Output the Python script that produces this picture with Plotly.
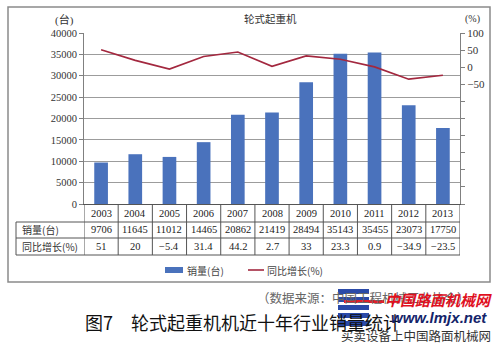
import plotly.graph_objects as go

# Wheeled crane sales, 2003-2013
years = ["2003", "2004", "2005", "2006", "2007", "2008", "2009", "2010", "2011", "2012", "2013"]
sales = [9706, 11645, 11012, 14465, 20862, 21419, 28494, 35143, 35455, 23073, 17750]
growth = [51, 20, -5.4, 31.4, 44.2, 2.7, 33, 23.3, 0.9, -34.9, -23.5]

left_ticks = list(range(0, 40001, 5000))
left_labels = [str(v) for v in left_ticks]
right_ticks = list(range(-400, 101, 50))
right_labels = [("\u2212" + str(-v)) if v < 0 else str(v) for v in right_ticks]
right_labels = [t if v >= -50 else "" for v, t in zip(right_ticks, right_labels)]

W, H = 500, 344
L, R, T, B = 84, 40, 33, 140
PW, PH = W - L - R, H - T - B

SERIF = "Liberation Serif, Noto Sans CJK SC"
CJK = "Noto Sans CJK SC"
BAR_C = "#4a72bc"
LINE_C = "#a3283f"
GRID_C = "#9c9c9c"
TBL_C = "#555555"


def px(x):
    return (x - L) / PW


def py(y):
    return (H - B - y) / PH


def fmt(v):
    s = f"{v:g}"
    return s.replace("-", "\u2212")


def label(x, y, text, family=CJK, size=10.5, color="#333", xanchor="center",
          xref="paper", **kw):
    return dict(x=x, xref=xref, y=y, yref="paper", text=text, xanchor=xanchor,
                yanchor="middle", showarrow=False,
                font=dict(family=family, size=size, color=color), **kw)


idx = list(range(len(years)))

fig = go.Figure()
fig.add_trace(go.Bar(x=idx, y=sales, marker=dict(color=BAR_C, line=dict(width=0)),
                     width=0.4, name="销量(台)", showlegend=False))
fig.add_trace(go.Scatter(x=idx, y=growth, yaxis="y2", mode="lines",
                         line=dict(color=LINE_C, width=1.6), name="同比增长(%)",
                         showlegend=False))

shapes = []
ann = []

# outer frame
shapes.append(dict(type="rect", xref="paper", yref="paper", x0=px(8), x1=px(490),
                   y0=py(282), y1=py(7), line=dict(color="#8a8a8a", width=1.5)))

# data table grid
row_y = [204, 222, 238, 255]
for k in range(len(years) + 1):
    shapes.append(dict(type="line", xref="x", yref="paper", x0=k - 0.5, x1=k - 0.5,
                       y0=py(row_y[0]), y1=py(row_y[-1]), line=dict(color=TBL_C, width=1)))
shapes.append(dict(type="line", xref="paper", yref="paper", x0=px(16), x1=px(16),
                   y0=py(row_y[1]), y1=py(row_y[-1]), line=dict(color=TBL_C, width=1)))
for yy in row_y[1:]:
    shapes.append(dict(type="line", xref="paper", yref="paper", x0=px(16), x1=1,
                       y0=py(yy), y1=py(yy), line=dict(color=TBL_C, width=1)))

row_mid = [(row_y[i] + row_y[i + 1]) / 2 for i in range(3)]
for i, yr in enumerate(years):
    ann.append(label(i, py(row_mid[0]), yr, family=SERIF, color="#222", xref="x"))
    ann.append(label(i, py(row_mid[1]), str(sales[i]), family=SERIF, color="#222", xref="x"))
    ann.append(label(i, py(row_mid[2]), fmt(growth[i]), family=SERIF, color="#222", xref="x"))
ann.append(label(px(20), py(row_mid[1]), "销量(台)", size=10, xanchor="left"))
ann.append(label(px(20), py(row_mid[2]), "同比增长(%)", size=10, xanchor="left"))

# legend
shapes.append(dict(type="rect", xref="paper", yref="paper", x0=px(165), x1=px(183),
                   y0=py(273), y1=py(267), fillcolor=BAR_C, line=dict(width=0)))
ann.append(label(px(185), py(270), "销量(台)", size=10, color="#444", xanchor="left"))
shapes.append(dict(type="line", xref="paper", yref="paper", x0=px(248), x1=px(264),
                   y0=py(270), y1=py(270), line=dict(color=LINE_C, width=1.6)))
ann.append(label(px(265), py(270), "同比增长(%)", size=10, color="#444", xanchor="left"))

# titles and units
ann.append(label(px(270), py(19), "轮式起重机", size=10.5))
ann.append(label(px(64), py(20), "(台)", family=SERIF, size=11))
ann.append(label(px(472), py(19), "(%)", family=SERIF, size=10))

# source note and figure caption
ann.append(label(px(255), py(297), "（数据来源：中国工程机械工业协会）", size=12.5,
                 color="#666", xanchor="left"))
ann.append(label(px(83), py(322), "图7", size=18, color="#111", xanchor="left"))
ann.append(label(px(129), py(322), "轮式起重机机近十年行业销量统计", size=18,
                 color="#111", xanchor="left"))

# site logo mark
for y0 in [289, 297, 305, 313, 321]:
    shapes.append(dict(type="rect", xref="paper", yref="paper", x0=px(338), x1=px(369),
                       y0=py(y0 + 5), y1=py(y0), fillcolor="#2a4aa8", line=dict(width=0)))
shapes.append(dict(type="rect", xref="paper", yref="paper", x0=px(344), x1=px(384),
                   y0=py(303), y1=py(300), fillcolor="#e0202a", line=dict(width=0)))
ann.append(label(px(383), py(299), "<b><i>中国路面机械网</i></b>", size=15,
                 color="#e0101e", xanchor="left"))
ann.append(label(px(389), py(317), "<b><i>www.lmjx.net</i></b>", family="Liberation Sans",
                 size=15, color="#14246a", xanchor="left"))
ann.append(label(px(339), py(335), "买卖设备上中国路面机械网", size=12.5, color="#333",
                 xanchor="left"))

fig.update_layout(
    width=W, height=H, autosize=False,
    margin=dict(l=L, r=R, t=T, b=B, pad=0),
    paper_bgcolor="white", plot_bgcolor="white",
    showlegend=False,
    xaxis=dict(range=[-0.5, len(years) - 0.5], showticklabels=False, showgrid=False,
               zeroline=False, showline=True, linecolor=TBL_C, linewidth=1, ticks=""),
    yaxis=dict(range=[0, 40000], tickvals=left_ticks, ticktext=left_labels, showgrid=True,
               gridcolor=GRID_C, gridwidth=1, zeroline=False, showline=True,
               linecolor="#808080", ticks="outside", ticklen=4, tickcolor="#808080",
               tickfont=dict(family=SERIF, size=10.5, color="#333")),
    yaxis2=dict(range=[-400, 100], overlaying="y", side="right", tickvals=right_ticks,
                ticktext=right_labels, showgrid=False, zeroline=False, showline=True,
                linecolor="#808080", ticks="outside", ticklen=4, tickcolor="#808080",
                tickfont=dict(family=SERIF, size=11, color="#333")),
    shapes=shapes, annotations=ann, bargap=0.6,
)

fig.write_html("out.html")
